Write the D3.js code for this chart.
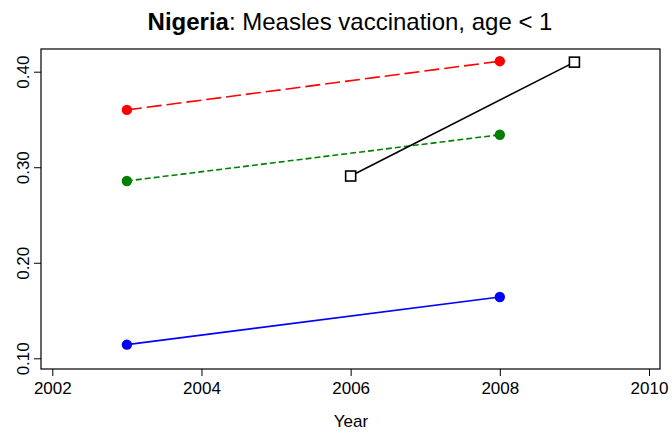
<!DOCTYPE html>
<html><head><meta charset="utf-8">
<script src="https://cdn.jsdelivr.net/npm/d3@7"></script>
<style>body{margin:0;background:#fff}svg{display:block}text{font-family:"Liberation Sans",Arial,sans-serif}</style>
</head><body><svg id="c" width="672" height="437"></svg>
<script>
const xTicks = [2002, 2004, 2006, 2008, 2010];
const yTicks = [0.10, 0.20, 0.30, 0.40];
const redYears = [2003, 2008];
const redValues = [0.360, 0.411];
const greenYears = [2003, 2008];
const greenValues = [0.2856, 0.334];
const blueYears = [2003, 2008];
const blueValues = [0.1143, 0.1642];
const blackYears = [2006, 2009];
const blackValues = [0.2908, 0.410];

const series = [
  {years: redYears, values: redValues, color: "#ff0000", dash: "15,5", marker: "circle"},
  {years: greenYears, values: greenValues, color: "#007f00", dash: "6,3", marker: "circle"},
  {years: blueYears, values: blueValues, color: "#0000ff", dash: null, marker: "circle"},
  {years: blackYears, values: blackValues, color: "#000000", dash: null, marker: "square"}
];

const svg = d3.select("#c");
const L = 41, R = 660, T = 49, B = 369;
const x = d3.scaleLinear().domain([2002, 2010]).range([52.3, 649]);
const y = d3.scaleLinear().domain([0.10, 0.40]).range([358.3, 71.7]);
const FONT = "Liberation Sans, Arial, sans-serif";

// box
svg.append("rect").attr("x", L).attr("y", T).attr("width", R - L).attr("height", B - T)
  .attr("fill", "none").attr("stroke", "#000").attr("stroke-width", 1.2);

// x axis
const xa = svg.append("g").attr("transform", `translate(0,${B})`)
  .call(d3.axisBottom(x).tickValues(xTicks).tickFormat(d3.format("d")).tickSize(7).tickPadding(6));
xa.select(".domain").remove();
xa.selectAll("line").attr("stroke", "#000");
xa.selectAll("text").attr("font-size", 17).attr("fill", "#000").attr("font-family", FONT);

// y axis
const ya = svg.append("g").attr("transform", `translate(${L},0)`)
  .call(d3.axisLeft(y).tickValues(yTicks).tickFormat(d3.format(".2f")).tickSize(7));
ya.select(".domain").remove();
ya.selectAll("line").attr("stroke", "#000");
ya.selectAll("text").attr("font-size", 17).attr("fill", "#000").attr("font-family", FONT)
  .attr("transform", "rotate(-90)")
  .attr("x", 0).attr("y", -12).attr("dy", 0).attr("text-anchor", "middle");

// lines and markers
const line = d3.line().x(d => x(d[0])).y(d => y(d[1]));
series.forEach(s => {
  const pts = s.years.map((yr, i) => [yr, s.values[i]]);
  svg.append("path").datum(pts).attr("d", line).attr("fill", "none")
    .attr("stroke", s.color).attr("stroke-width", 1.6)
    .attr("stroke-dasharray", s.dash);
  if (s.marker === "circle") {
    svg.selectAll(null).data(pts).enter().append("circle")
      .attr("cx", d => x(d[0])).attr("cy", d => y(d[1])).attr("r", 5.2).attr("fill", s.color);
  } else {
    svg.selectAll(null).data(pts).enter().append("rect")
      .attr("x", d => x(d[0]) - 5).attr("y", d => y(d[1]) - 5).attr("width", 10).attr("height", 10)
      .attr("fill", "#fff").attr("stroke", s.color).attr("stroke-width", 1.6);
  }
});

// title
const title = svg.append("text").attr("x", 350).attr("y", 30).attr("text-anchor", "middle")
  .attr("font-size", 24).attr("fill", "#000");
title.append("tspan").attr("font-weight", "bold").text("Nigeria");
title.append("tspan").text(": Measles vaccination, age < 1");

// x label
svg.append("text").attr("x", 351).attr("y", 427).attr("text-anchor", "middle")
  .attr("font-size", 17).attr("fill", "#000").text("Year");
</script></body></html>
